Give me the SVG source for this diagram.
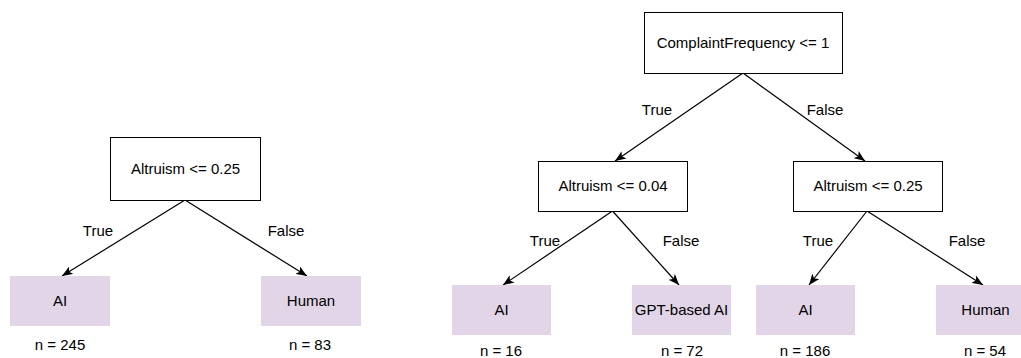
<svg xmlns="http://www.w3.org/2000/svg" width="1021" height="358" viewBox="0 0 1021 358">
<style>
text{font-family:"Liberation Sans",Arial,Helvetica,sans-serif;font-size:15px;fill:#000;text-anchor:middle}
.dec{fill:#fff;stroke:#000;stroke-width:1}
.leaf{fill:#e1d5e7;stroke:none}
.edge{stroke:#000;stroke-width:1.2;fill:none;marker-end:url(#arr)}
</style>
<defs>
<marker id="arr" viewBox="0 0 10 8" refX="10" refY="4" markerWidth="11" markerHeight="9" markerUnits="userSpaceOnUse" orient="auto">
<path d="M0,0 L10,4 L0,8 L2.5,4 z" fill="#000"/>
</marker>
</defs>
<rect width="1021" height="358" fill="#fff"/>
<g id="connectors">
<line class="edge" x1="185" y1="200" x2="62" y2="276"/>
<line class="edge" x1="185" y1="200" x2="307" y2="276"/>
<line class="edge" x1="743" y1="73" x2="615" y2="161"/>
<line class="edge" x1="743" y1="73" x2="865" y2="161"/>
<line class="edge" x1="612.5" y1="211" x2="503" y2="285"/>
<line class="edge" x1="612.5" y1="211" x2="679" y2="285"/>
<line class="edge" x1="867" y1="211" x2="809" y2="285"/>
<line class="edge" x1="867" y1="211" x2="983" y2="285"/>
</g>
<g id="edge-labels">
<text x="98" y="236">True</text>
<text x="286" y="236">False</text>
<text x="657" y="115">True</text>
<text x="825" y="115">False</text>
<text x="545" y="246">True</text>
<text x="681" y="246">False</text>
<text x="818" y="246">True</text>
<text x="967" y="246">False</text>
</g>
<g id="left-root"><rect class="dec" x="110.5" y="137.5" width="150" height="63"/><text x="185.5" y="174">Altruism &lt;= 0.25</text></g>
<g id="left-ai"><rect class="leaf" x="10" y="276" width="100" height="50"/><text x="60" y="306">AI</text><text x="60" y="350">n = 245</text></g>
<g id="left-human"><rect class="leaf" x="261" y="276" width="100" height="50"/><text x="311" y="306">Human</text><text x="310" y="350">n = 83</text></g>
<g id="right-root"><rect class="dec" x="644.5" y="12.5" width="198" height="61"/><text x="743" y="48">ComplaintFrequency &lt;= 1</text></g>
<g id="alt-004"><rect class="dec" x="538.5" y="161.5" width="149" height="50"/><text x="613" y="191">Altruism &lt;= 0.04</text></g>
<g id="alt-025"><rect class="dec" x="793.5" y="161.5" width="149" height="50"/><text x="868" y="191">Altruism &lt;= 0.25</text></g>
<g id="ai-16"><rect class="leaf" x="452" y="285" width="99" height="50"/><text x="501.5" y="315">AI</text><text x="501" y="356">n = 16</text></g>
<g id="gpt-72"><rect class="leaf" x="632" y="285" width="99" height="50"/><text x="681.5" y="315">GPT-based AI</text><text x="682" y="356">n = 72</text></g>
<g id="ai-186"><rect class="leaf" x="756" y="285" width="99" height="50"/><text x="805.5" y="315">AI</text><text x="805" y="356">n = 186</text></g>
<g id="human-54"><rect class="leaf" x="936" y="285" width="99" height="50"/><text x="985.5" y="315">Human</text><text x="985" y="356">n = 54</text></g>
</svg>
